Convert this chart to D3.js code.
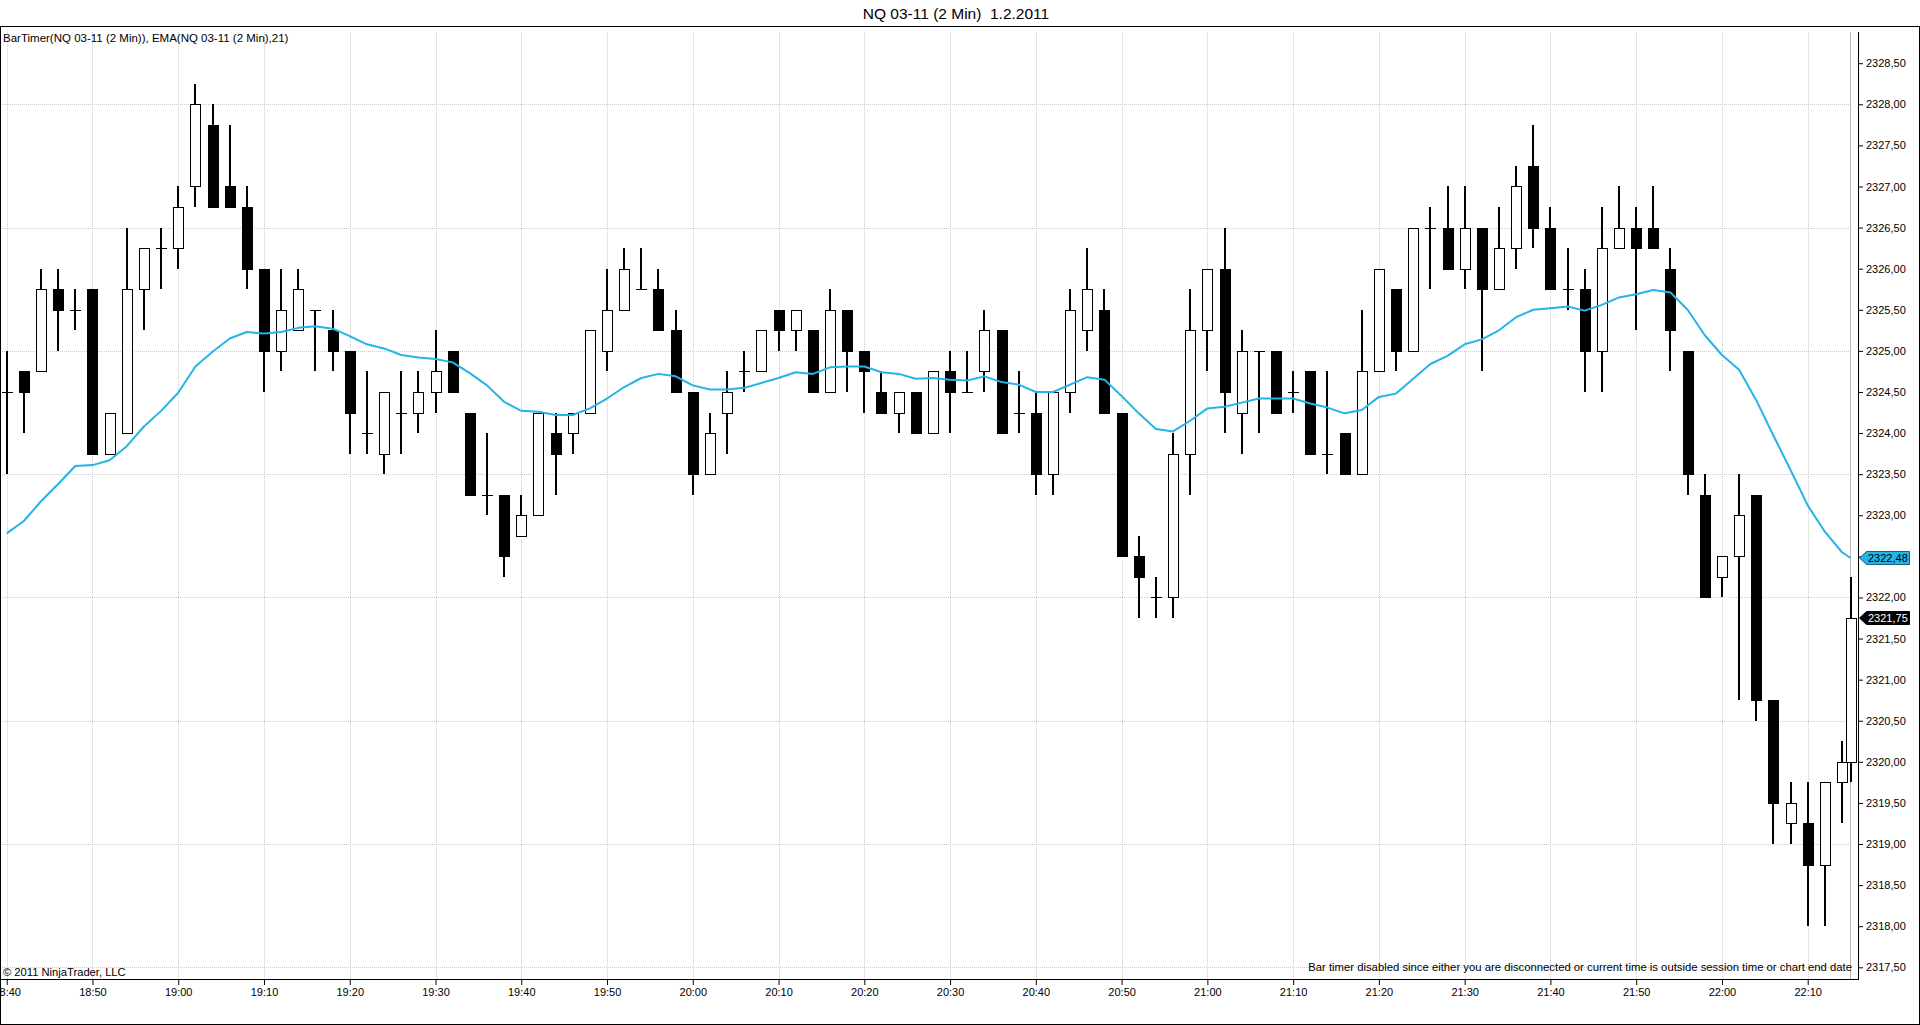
<!DOCTYPE html>
<html>
<head>
<meta charset="utf-8">
<title>NQ 03-11 (2 Min)</title>
<script src="https://cdn.jsdelivr.net/npm/d3@7"></script>
<style>
body { margin: 0; background: #fff; }
svg { display: block; font-family: Arial, "Liberation Sans", sans-serif; }
</style>
</head>
<body>
<div id="chart"></div>
<script>
// bar close times (2 min bars), last bar is the running one
var times = [
  "18:40","18:42","18:44","18:46","18:48","18:50","18:52","18:54","18:56","18:58",
  "19:00","19:02","19:04","19:06","19:08","19:10","19:12","19:14","19:16","19:18",
  "19:20","19:22","19:24","19:26","19:28","19:30","19:32","19:34","19:36","19:38",
  "19:40","19:42","19:44","19:46","19:48","19:50","19:52","19:54","19:56","19:58",
  "20:00","20:02","20:04","20:06","20:08","20:10","20:12","20:14","20:16","20:18",
  "20:20","20:22","20:24","20:26","20:28","20:30","20:32","20:34","20:36","20:38",
  "20:40","20:42","20:44","20:46","20:48","20:50","20:52","20:54","20:56","20:58",
  "21:00","21:02","21:04","21:06","21:08","21:10","21:12","21:14","21:16","21:18",
  "21:20","21:22","21:24","21:26","21:28","21:30","21:32","21:34","21:36","21:38",
  "21:40","21:42","21:44","21:46","21:48","21:50","21:52","21:54","21:56","21:58",
  "22:00","22:02","22:04","22:06","22:08","22:10","22:12","22:14","22:15"
];

var opens = [
  2324.5,2324.75,2324.75,2325.75,2325.5,2325.75,2323.75,2324,2325.75,2326.25,
  2326.25,2327,2327.75,2327,2326.75,2326,2325,2325.25,2325.5,2325.25,
  2325,2324,2323.75,2324.25,2324.25,2324.5,2325,2324.25,2323.25,2323.25,
  2322.75,2323,2324,2324,2324.25,2325,2325.5,2325.75,2325.75,2325.25,
  2324.5,2323.5,2324.25,2324.75,2324.75,2325.5,2325.25,2325.25,2324.5,2325.5,
  2325,2324.5,2324.25,2324.5,2324,2324.75,2324.5,2324.75,2325.25,2324.25,
  2324.25,2323.5,2324.5,2325.25,2325.5,2324.25,2322.5,2322,2322,2323.75,
  2325.25,2326,2324.25,2325,2325,2324.5,2324.75,2323.75,2324,2323.5,
  2324.75,2325.75,2325,2326.5,2326.5,2326,2326.5,2325.75,2326.25,2327.25,
  2326.5,2325.75,2325.75,2325,2326.25,2326.5,2326.5,2326,2325,2323.25,
  2322.25,2322.5,2323.25,2320.75,2319.25,2319.25,2318.75,2319.75,2320
];
var highs = [
  2325,2324.75,2326,2326,2325.75,2325.75,2324.25,2326.5,2326.25,2326.5,
  2327,2328.25,2328,2327.75,2327,2326,2326,2326,2325.5,2325.5,
  2325,2324.75,2324.5,2324.75,2324.75,2325.25,2325,2324.25,2324,2323.25,
  2323.25,2324.25,2324.25,2324.25,2325.25,2326,2326.25,2326.25,2326,2325.5,
  2324.5,2324.25,2324.75,2325,2325.25,2325.5,2325.5,2325.25,2325.75,2325.5,
  2325,2324.75,2324.5,2324.5,2324.75,2325,2325,2325.5,2325.25,2324.75,
  2324.5,2324.5,2325.75,2326.25,2325.75,2324.25,2322.75,2322.25,2324,2325.75,
  2326,2326.5,2325.25,2325,2325,2324.75,2324.75,2324.75,2324,2325.5,
  2326,2325.75,2326.5,2326.75,2327,2327,2326.5,2326.75,2327.25,2327.75,
  2326.75,2326.25,2326,2326.75,2327,2326.75,2327,2326.25,2325,2323.5,
  2322.5,2323.5,2323.25,2320.75,2319.75,2319.75,2319.75,2320.25,2322.25
];
var lows = [
  2323.5,2324,2324.75,2325,2325.25,2323.75,2323.75,2324,2325.25,2325.75,
  2326,2326.75,2326.75,2326.75,2325.75,2324.5,2324.75,2325.25,2324.75,2324.75,
  2323.75,2323.75,2323.5,2323.75,2324,2324.25,2324.5,2323.25,2323,2322.25,
  2322.75,2323,2323.25,2323.75,2324.25,2324.75,2325.5,2325.75,2325.25,2324.5,
  2323.25,2323.5,2323.75,2324.5,2324.75,2325,2325,2324.5,2324.5,2324.5,
  2324.25,2324.25,2324,2324,2324,2324,2324.5,2324.5,2324,2324,
  2323.25,2323.25,2324.25,2325,2324.25,2322.5,2321.75,2321.75,2321.75,2323.25,
  2324.75,2324,2323.75,2324,2324.25,2324.25,2323.75,2323.5,2323.5,2323.5,
  2324.75,2324.75,2325,2325.75,2326,2325.75,2324.75,2325.75,2326,2326.25,
  2325.75,2325.5,2324.5,2324.5,2326.25,2325.25,2326.25,2324.75,2323.25,2322,
  2322,2320.75,2320.5,2319,2319,2318,2318,2319.25,2319.75
];
var closes = [
  2324.5,2324.5,2325.75,2325.5,2325.5,2323.75,2324.25,2325.75,2326.25,2326.25,
  2326.75,2328,2326.75,2326.75,2326,2325,2325.5,2325.75,2325.5,2325,
  2324.25,2324,2324.5,2324.25,2324.5,2324.75,2324.5,2323.25,2323.25,2322.5,
  2323,2324.25,2323.75,2324.25,2325.25,2325.5,2326,2325.75,2325.25,2324.5,
  2323.5,2324,2324.5,2324.75,2325.25,2325.25,2325.5,2324.5,2325.5,2325,
  2324.75,2324.25,2324.5,2324,2324.75,2324.5,2324.5,2325.25,2324,2324.25,
  2323.5,2324.5,2325.5,2325.75,2324.25,2322.5,2322.25,2322,2323.75,2325.25,
  2326,2324.5,2325,2325,2324.25,2324.5,2323.75,2323.75,2323.5,2324.75,
  2326,2325,2326.5,2326.5,2326,2326.5,2325.75,2326.25,2327,2326.5,
  2325.75,2325.75,2325,2326.25,2326.5,2326.25,2326.25,2325.25,2323.5,2322,
  2322.5,2323,2320.75,2319.5,2319.5,2318.75,2319.75,2320,2321.75
];
// EMA(21) as plotted
var ema = [
  2322.78,2322.93,2323.17,2323.38,2323.60,2323.61,2323.67,2323.84,2324.08,2324.27,
  2324.49,2324.81,2324.99,2325.15,2325.23,2325.21,2325.23,2325.28,2325.30,2325.27,
  2325.18,2325.08,2325.03,2324.95,2324.92,2324.90,2324.86,2324.73,2324.58,2324.38,
  2324.27,2324.26,2324.22,2324.22,2324.30,2324.42,2324.56,2324.67,2324.72,2324.69,
  2324.58,2324.53,2324.53,2324.55,2324.61,2324.67,2324.74,2324.72,2324.80,2324.81,
  2324.81,2324.74,2324.72,2324.66,2324.67,2324.65,2324.64,2324.69,2324.62,2324.59,
  2324.50,2324.50,2324.59,2324.68,2324.65,2324.45,2324.24,2324.05,2324.02,2324.15,
  2324.30,2324.32,2324.37,2324.42,2324.42,2324.42,2324.36,2324.31,2324.24,2324.28,
  2324.44,2324.48,2324.66,2324.84,2324.94,2325.08,2325.14,2325.25,2325.41,2325.50,
  2325.52,2325.54,2325.49,2325.56,2325.65,2325.69,2325.74,2325.71,2325.50,2325.19,
  2324.95,2324.77,2324.40,2323.97,2323.55,2323.12,2322.80,2322.55,2322.48
];

var timeTicks = ["18:40","18:50","19:00","19:10","19:20","19:30","19:40","19:50",
  "20:00","20:10","20:20","20:30","20:40","20:50","21:00","21:10","21:20","21:30",
  "21:40","21:50","22:00","22:10"];
var priceTicks = [2317.5,2318,2318.5,2319,2319.5,2320,2320.5,2321,2321.5,2322,2322.5,
  2323,2323.5,2324,2324.5,2325,2325.5,2326,2326.5,2327,2327.5,2328,2328.5];
var gridPrices = [2317.5,2319,2320.5,2322,2323.5,2325,2326.5,2328];

var W = 1920, H = 1025;
var plotTop = 32, plotBottom = 979, plotRight = 1850, axisX = 1858;
var emaColor = "#25b3e8";

var parseT = d3.timeParse("%H:%M");

var x = d3.scaleTime()
    .domain([parseT("18:40"), parseT("22:10")])
    .range([6.7, 1807.7]);
var y = d3.scaleLinear()
    .domain([2317.5, 2328])
    .range([967.3, 104.3]);

var bars = times.map(function(t, i) {
    return { t: parseT(t), o: opens[i], h: highs[i], l: lows[i], c: closes[i], e: ema[i] };
});

function comma(v) { return d3.format(".2f")(v).replace(".", ","); }

var svg = d3.select("#chart").append("svg")
    .attr("width", W).attr("height", H);

svg.append("rect").attr("width", W).attr("height", H).attr("fill", "#fff");

// title (two spaces before the date)
svg.append("text")
    .attr("x", 956).attr("y", 19)
    .attr("text-anchor", "middle")
    .style("font-size", "15.5px")
    .style("white-space", "pre")
    .text("NQ 03-11 (2 Min)  1.2.2011");

// grid
var grid = svg.append("g").attr("stroke", "#cccccc").attr("stroke-dasharray", "1,1");
grid.selectAll("line.v").data(timeTicks).enter().append("line")
    .attr("x1", function(d) { return Math.round(x(parseT(d))) + 0.5; })
    .attr("x2", function(d) { return Math.round(x(parseT(d))) + 0.5; })
    .attr("y1", plotTop).attr("y2", plotBottom);
grid.selectAll("line.h").data(gridPrices).enter().append("line")
    .attr("x1", 0).attr("x2", plotRight)
    .attr("y1", function(d) { return Math.round(y(d)) + 0.5; })
    .attr("y2", function(d) { return Math.round(y(d)) + 0.5; });

// right edge of the bar area
svg.append("line")
    .attr("x1", plotRight + 0.5).attr("x2", plotRight + 0.5)
    .attr("y1", plotTop).attr("y2", plotBottom)
    .attr("stroke", "#b8b8b8");

// candles
var cg = svg.append("g").attr("shape-rendering", "crispEdges");
var candle = cg.selectAll("g").data(bars).enter().append("g")
    .attr("transform", function(d) { return "translate(" + Math.round(x(d.t)) + ",0)"; });

candle.append("rect")
    .attr("x", -1).attr("width", 2)
    .attr("y", function(d) { return Math.round(y(d.h)); })
    .attr("height", function(d) { return Math.max(1, Math.round(y(d.l)) - Math.round(y(d.h))); })
    .attr("fill", "#000");

candle.filter(function(d) { return d.o === d.c; }).append("line")
    .attr("x1", -5.5).attr("x2", 5.5)
    .attr("y1", function(d) { return Math.round(y(d.c)) + 0.5; })
    .attr("y2", function(d) { return Math.round(y(d.c)) + 0.5; })
    .attr("stroke", "#000");

candle.filter(function(d) { return d.o !== d.c; }).append("rect")
    .attr("x", -4.5).attr("width", 10)
    .attr("y", function(d) { return Math.round(y(Math.max(d.o, d.c))) + 0.5; })
    .attr("height", function(d) { return Math.round(y(Math.min(d.o, d.c))) - Math.round(y(Math.max(d.o, d.c))); })
    .attr("fill", function(d) { return d.c > d.o ? "#fff" : "#000"; })
    .attr("stroke", "#000");

// EMA line
svg.append("path")
    .datum(bars)
    .attr("fill", "none")
    .attr("stroke", emaColor)
    .attr("stroke-width", 2)
    .attr("stroke-linejoin", "round")
    .attr("d", d3.line()
        .x(function(d) { return x(d.t); })
        .y(function(d) { return y(d.e); }));

// texts inside the chart
svg.append("text").attr("x", 3).attr("y", 42).style("font-size", "11.5px")
    .text("BarTimer(NQ 03-11 (2 Min)), EMA(NQ 03-11 (2 Min),21)");
svg.append("text").attr("x", 3).attr("y", 976).style("font-size", "11.2px")
    .text("\u00a9 2011 NinjaTrader, LLC");
svg.append("text").attr("x", 1852).attr("y", 971).attr("text-anchor", "end")
    .style("font-size", "11.3px")
    .text("Bar timer disabled since either you are disconnected or current time is outside session time or chart end date");

// time axis
var xAxis = svg.append("g")
    .attr("transform", "translate(0," + plotBottom + ")")
    .call(d3.axisBottom(x)
        .tickValues(timeTicks.map(parseT))
        .tickSize(6).tickPadding(3)
        .tickFormat(d3.timeFormat("%H:%M")));
xAxis.select(".domain").remove();
xAxis.selectAll("text").style("font-size", "11px").attr("fill", "#000");
xAxis.selectAll("line").attr("stroke", "#000");

// price axis
var yAxis = svg.append("g")
    .attr("transform", "translate(" + axisX + ",0)")
    .call(d3.axisRight(y)
        .tickValues(priceTicks)
        .tickSize(5).tickPadding(3)
        .tickFormat(comma));
yAxis.select(".domain").remove();
yAxis.selectAll("text").style("font-size", "11px").attr("fill", "#000");
yAxis.selectAll("line").attr("stroke", "#000");

// frame and axis lines
var frame = svg.append("g").attr("stroke", "#000").attr("shape-rendering", "crispEdges");
frame.append("line").attr("x1", 0).attr("x2", W).attr("y1", 26.5).attr("y2", 26.5);
frame.append("line").attr("x1", 0.5).attr("x2", 0.5).attr("y1", 26).attr("y2", H);
frame.append("line").attr("x1", W - 0.5).attr("x2", W - 0.5).attr("y1", 26).attr("y2", H);
frame.append("line").attr("x1", 0).attr("x2", W).attr("y1", H - 0.5).attr("y2", H - 0.5);
frame.append("line").attr("x1", 0).attr("x2", axisX + 1).attr("y1", plotBottom + 0.5).attr("y2", plotBottom + 0.5);
frame.append("line").attr("x1", axisX + 0.5).attr("x2", axisX + 0.5).attr("y1", plotTop).attr("y2", plotBottom);

// last value markers on the price axis
var last = bars[bars.length - 1];
var markers = [
    { v: last.e, fill: emaColor, stroke: "#1c5f80", text: "#000" },
    { v: last.c, fill: "#000", stroke: "#000", text: "#fff" }
];
var mk = svg.selectAll("g.marker").data(markers).enter().append("g")
    .attr("class", "marker")
    .attr("transform", function(d) { return "translate(" + (axisX + 1) + "," + Math.round(y(d.v)) + ")"; });
mk.append("path")
    .attr("d", "M0.5,0 L7.5,-6.5 L50.5,-6.5 L50.5,6.5 L7.5,6.5 Z")
    .attr("fill", function(d) { return d.fill; })
    .attr("stroke", function(d) { return d.stroke; });
mk.append("text")
    .attr("x", 9).attr("dy", "0.35em")
    .style("font-size", "11px")
    .attr("fill", function(d) { return d.text; })
    .text(function(d) { return comma(d.v); });
</script>
</body>
</html>
